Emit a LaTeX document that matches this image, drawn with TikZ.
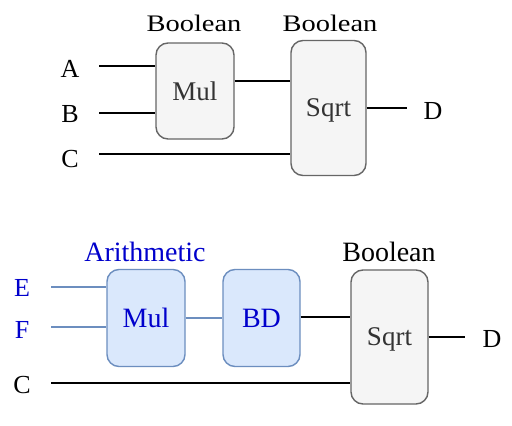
\documentclass[tikz,border=0pt]{standalone}
\usepackage{fontspec}
\setmainfont{Liberation Serif}
\newfontfamily\wideserif{Liberation Serif}[FakeStretch=1.2]
\definecolor{boxgray}{HTML}{F5F5F5}
\definecolor{edgegray}{HTML}{666666}
\definecolor{boxblue}{HTML}{DAE8FC}
\definecolor{edgeblue}{HTML}{6C8EBF}
\definecolor{txtblue}{HTML}{0000CC}
\definecolor{txtgray}{HTML}{333333}
\begin{document}
\begin{tikzpicture}[x=1pt,y=-1pt,
  graybox/.style={draw=edgegray, fill=boxgray, line width=1.4pt, rounded corners=12pt,
    inner sep=0pt, text depth=0pt, text=txtgray, font=\fontsize{27}{30}\selectfont},
  bluebox/.style={graybox, draw=edgeblue, fill=boxblue, text=txtblue,
    font=\fontsize{28}{30}\selectfont},
  lbl/.style={anchor=base, inner sep=0pt, font=\fontsize{26}{30}\selectfont},
  toplbl/.style={anchor=base, inner sep=0pt, font=\wideserif\fontsize{23.7}{28}\selectfont},
  botlbl/.style={anchor=base, inner sep=0pt, font=\fontsize{28}{30}\selectfont},
  wire/.style={line width=1.7pt, black},
  bwire/.style={line width=1.7pt, edgeblue}]
\useasboundingbox (0,0) rectangle (512,426);
\fill[white] (0,0) rectangle (512,426);

% ---------- top circuit ----------
\node[graybox, minimum width=78pt, minimum height=96pt] (mul1) at (195,91) {Mul};
\node[graybox, minimum width=75pt, minimum height=135pt] (sqrt1) at (328.5,108) {Sqrt};
\node[toplbl] (bool1) at (194,31.5) {Boolean};
\node[toplbl] (bool2) at (330,31.5) {Boolean};
\node[lbl] (A) at (70,77) {A};
\node[lbl] (B) at (70,122) {B};
\node[lbl] (C1) at (70,167.5) {C};
\node[lbl] (D1) at (433,119) {D};

\coordinate (a0) at (99,66);
\coordinate (b0) at (99,113);
\coordinate (c0) at (99,154);
\coordinate (d1) at (407,108);
\draw[wire] (a0) -- (a0 -| mul1.west);
\draw[wire] (b0) -- (b0 -| mul1.west);
\draw[wire] (c0) -- (c0 -| sqrt1.west);
\draw[wire] ([yshift=10pt]mul1.east) -- ([yshift=10pt]mul1.east -| sqrt1.west);
\draw[wire] (sqrt1.east) -- (d1);

% ---------- bottom circuit ----------
\node[bluebox, minimum width=78pt, minimum height=97pt] (mul2) at (146,318) {Mul};
\node[bluebox, minimum width=77pt, minimum height=97pt] (bd) at (261.5,318) {BD};
\node[graybox, minimum width=77pt, minimum height=134pt] (sqrt2) at (389.5,337) {Sqrt};
\node[botlbl, text=txtblue] (arith) at (145,261.7) {Arithmetic};
\node[botlbl] (bool3) at (389,261.7) {Boolean};
\node[lbl, text=txtblue] (E) at (22,296.7) {E};
\node[lbl, text=txtblue] (F) at (22,338) {F};
\node[lbl] (C2) at (22,393) {C};
\node[lbl] (D2) at (492,347) {D};

\coordinate (e0) at (51,287);
\coordinate (f0) at (51,327);
\coordinate (c2) at (51,383);
\coordinate (d2) at (465,337);
\draw[bwire] (e0) -- (e0 -| mul2.west);
\draw[bwire] (f0) -- (f0 -| mul2.west);
\draw[wire] (c2) -- (c2 -| sqrt2.west);
\draw[bwire] (mul2.east) -- (bd.west);
\draw[wire] ([yshift=1pt]bd.east) -- ([yshift=1pt]bd.east -| sqrt2.west);
\draw[wire] (sqrt2.east) -- (d2);
\end{tikzpicture}
\end{document}
